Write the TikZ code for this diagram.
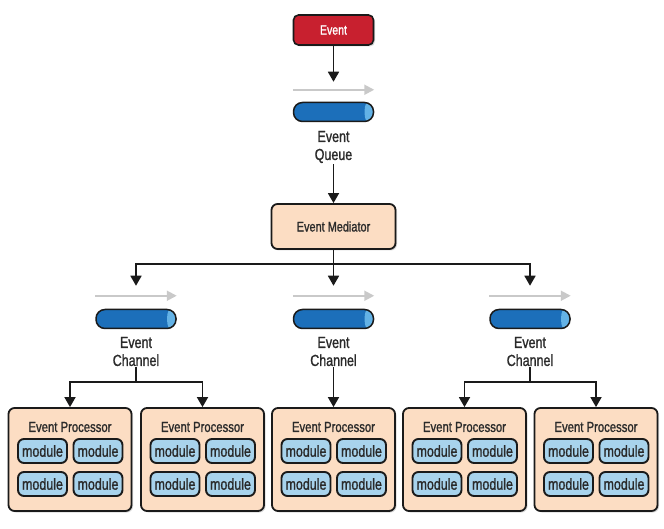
\documentclass[tikz,border=0pt]{standalone}
\usepackage{fontspec}
\setmainfont{Liberation Sans}[FakeStretch=0.78,FakeBold=1.2]
\usetikzlibrary{arrows.meta,shadows,calc}
\definecolor{evred}{HTML}{C8202F}
\definecolor{peach}{HTML}{FCDDC3}
\definecolor{modblue}{HTML}{A8D3EC}
\definecolor{cylblue}{HTML}{1C6FBA}
\definecolor{caplight}{HTML}{63B2E6}
\definecolor{edge}{HTML}{1A1A1A}
\definecolor{grayarr}{HTML}{C9C9C9}
\definecolor{txt}{HTML}{2A2A2A}
\tikzset{
  procbox/.style={draw=edge, line width=1.8pt, rounded corners=6pt, fill=peach, text=txt,
    drop shadow={shadow xshift=1.5pt,shadow yshift=-1.5pt,opacity=0.3}},
  evbox/.style={draw=edge, line width=1.6pt, rounded corners=5pt, fill=evred,
    minimum width=80pt, minimum height=30pt, text=white, font=\fontsize{13.5}{15}\selectfont,
    drop shadow={shadow xshift=1.5pt,shadow yshift=-1.5pt,opacity=0.3}},
  modbox/.style={draw=edge, line width=1.9pt, rounded corners=6pt, fill=modblue, text=txt,
    minimum width=49pt, minimum height=24pt, inner sep=0pt, font=\fontsize{16}{17}\selectfont},
  cyl/.style={draw=edge, line width=1.5pt, fill=cylblue, rounded corners=9pt,
    minimum width=80pt, minimum height=19pt, inner sep=0pt,
    path picture={\fill[caplight] ($(path picture bounding box.east)+(-4pt,0)$) ellipse [x radius=5pt, y radius=12pt];}},
  lbl/.style={align=center, font=\fontsize{16}{18}\selectfont, inner sep=1pt, text=txt},
  ttl/.style={font=\fontsize{14.5}{16}\selectfont, inner sep=0pt, text=txt},
  arr/.style={draw=edge, line width=1.7pt, -{Triangle[length=10pt,width=11pt]}},
  plain/.style={draw=edge, line width=1.7pt},
  garr/.style={draw=grayarr, line width=2pt, -{Triangle[length=10pt,width=10pt]}},
}
\begin{document}
\begin{tikzpicture}[x=1pt,y=-1pt]
\useasboundingbox (0,0) rectangle (664,529);
% top event
\node[evbox] (ev) at (333.5,30) {Event};
\node[cyl] (q) at (333.5,112) {};
\draw[garr] ([yshift=12pt]q.north west) -- ([yshift=12pt]q.north east);
\node[lbl] (ql) at (333.5,147) {Event\\Queue};
\coordinate (qin) at ([yshift=20pt]q.north);
\draw[arr] (ev.south) -- (qin);
% mediator
\node[procbox, minimum width=124pt, minimum height=45pt, font=\fontsize{14}{16}\selectfont] (med) at (333.5,226.5) {Event Mediator};
\draw[arr] (ql.south) -- (med.north);
% channels
\foreach \i/\cx in {1/136,2/333.5,3/530}{
  \node[cyl] (c\i) at (\cx,319) {};
  \draw[garr] ([yshift=13pt]c\i.north west) -- ([yshift=13pt]c\i.north east);
  \node[lbl] (l\i) at (\cx,351.5) {Event\\Channel};
  \coordinate (a\i) at ([yshift=23pt]c\i.north);
}
\coordinate (s0) at (333.5,264);
\draw[plain] (med.south) -- (s0);
\draw[arr] (s0) -| (a1);
\draw[arr] (s0) -- (a2);
\draw[arr] (s0) -| (a3);
% processors
\foreach \i/\cx in {1/70,2/202.5,3/333.5,4/464.5,5/596}{
  \node[procbox, minimum width=123pt, minimum height=103pt] (p\i) at (\cx,459.5) {};
  \node[ttl] (t\i) at ($(p\i.center)+(0,-32.5)$) {Event Processor};
  \node[modbox] (m\i a) at ($(p\i.center)+(-27.5,-8.5)$) {module};
  \node[modbox] (m\i b) at ($(p\i.center)+(28,-8.5)$) {module};
  \node[modbox] (m\i c) at ($(p\i.center)+(-27.5,24.5)$) {module};
  \node[modbox] (m\i d) at ($(p\i.center)+(28,24.5)$) {module};
}
% channel to processors
\coordinate (s1) at (136,382);
\coordinate (s3) at (530,382);
\draw[plain] (l1.south) -- (s1);
\draw[arr] (s1) -| (p1.north);
\draw[arr] (s1) -| (p2.north);
\draw[arr] (l2.south) -- (p3.north);
\draw[plain] (l3.south) -- (s3);
\draw[arr] (s3) -| (p4.north);
\draw[arr] (s3) -| (p5.north);
\end{tikzpicture}
\end{document}
